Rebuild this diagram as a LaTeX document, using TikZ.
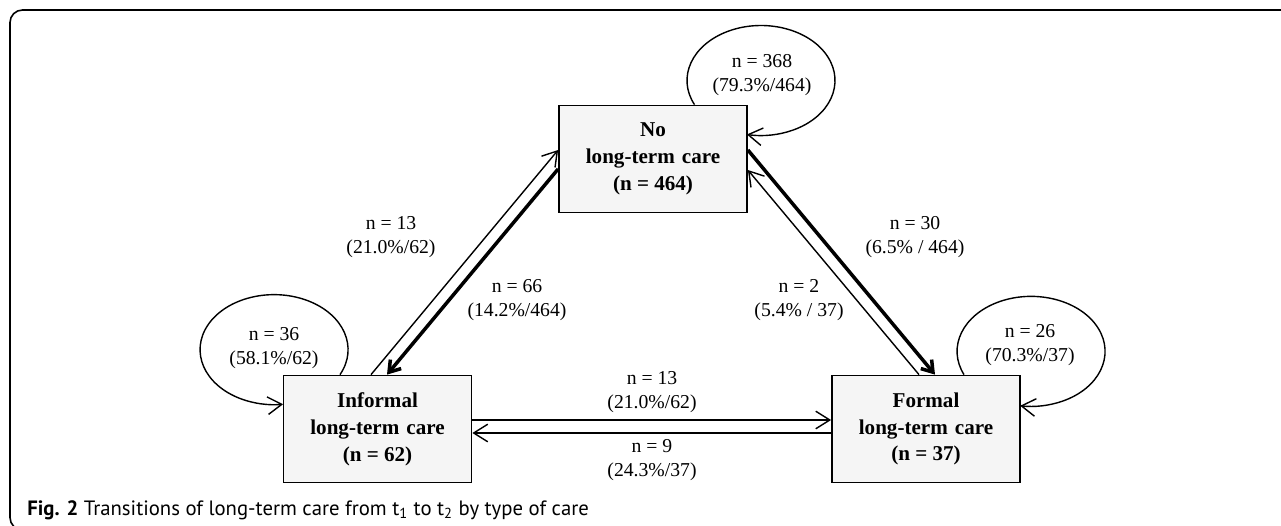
\documentclass[tikz,border=0pt]{standalone}
\usepackage{fontspec}
\setmainfont{Liberation Serif}
\newfontfamily\capfont{PT Sans}
\usetikzlibrary{arrows.meta}
\tikzset{
  carebox/.style={draw, line width=1pt, fill=gray!8, minimum width=3.76cm,
    minimum height=2.14cm, align=center, font=\fontsize{12}{15.3}\selectfont\bfseries},
  flowlbl/.style={align=center, font=\fontsize{11.2}{13.2}\selectfont},
  thinarr/.style={line width=0.8pt, -{Straight Barb[length=8pt,width=10pt]}},
  thickarr/.style={line width=2pt, -{Straight Barb[length=6pt,width=8pt]}},
  selfloop/.style={line width=0.8pt, -{Straight Barb[length=8pt,width=10pt]}},
}
\begin{document}
\begin{tikzpicture}
  \useasboundingbox (0,0) rectangle (25.62,10.5);
  \draw[line width=0.9pt, rounded corners=0.25cm] (0.2,-0.1) rectangle (26.5,10.3);
  %% boxes
  \node[carebox] (nolc) at (13.06,7.32) {No\\long-term\,\,care\\(n = 464)};
  \node[carebox] (inf) at (7.55,1.92) {Informal\\long-term\,\,care\\(n = 62)};
  \node[carebox] (form) at (18.52,1.92) {Formal\\long-term\,\,care\\(n = 37)};
  %% transitions
  \draw[thinarr] ([xshift=-0.13cm]inf.north) -- ([yshift=0.18cm]nolc.west);
  \draw[thickarr] ([yshift=-0.2cm]nolc.west) -- ([xshift=0.19cm]inf.north);
  \draw[thickarr] ([yshift=0.18cm]nolc.east) -- ([xshift=0.18cm]form.north);
  \draw[thinarr] ([xshift=-0.14cm]form.north) -- ([yshift=-0.22cm]nolc.east);
  \draw[thinarr] ([yshift=0.18cm]inf.east) -- ([yshift=0.18cm]form.west);
  \draw[thinarr] ([yshift=-0.08cm]form.west) -- ([yshift=-0.08cm]inf.east);
  %% staying in the same type
  \draw[selfloop] ([xshift=0.83cm]nolc.north) arc[start angle=206, end angle=-101, x radius=1.48cm, y radius=1.1cm];
  \draw[selfloop] ([xshift=-0.75cm]inf.north) arc[start angle=-27, end angle=277, x radius=1.48cm, y radius=1.1cm];
  \draw[selfloop] ([xshift=0.76cm]form.north) arc[start angle=205, end angle=-98.5, x radius=1.48cm, y radius=1.1cm];
  %% labels
  \node[flowlbl] (l368) at (15.24,9.00) {n = 368\\(79.3\%/464)};
  \node[flowlbl] (l36) at (5.48,3.54) {n = 36\\(58.1\%/62)};
  \node[flowlbl] (l26) at (20.60,3.60) {n = 26\\(70.3\%/37)};
  \node[flowlbl] (l13a) at (7.82,5.76) {n = 13\\(21.0\%/62)};
  \node[flowlbl] (l66) at (10.34,4.50) {n = 66\\(14.2\%/464)};
  \node[flowlbl] (l30) at (18.30,5.76) {n = 30\\(6.5\% / 464)};
  \node[flowlbl] (l2) at (15.98,4.50) {n = 2\\(5.4\% / 37)};
  \node[flowlbl] (l13b) at (13.04,2.66) {n = 13\\(21.0\%/62)};
  \node[flowlbl] (l9) at (13.04,1.30) {n = 9\\(24.3\%/37)};
  %% caption
  \node[anchor=base west, inner sep=0pt, font=\capfont\fontsize{11.8}{13}\selectfont] (cap) at (0.54,0.2)
    {\textbf{Fig. 2} Transitions of long-term care from t\textsubscript{1} to t\textsubscript{2} by type of care};
\end{tikzpicture}
\end{document}
